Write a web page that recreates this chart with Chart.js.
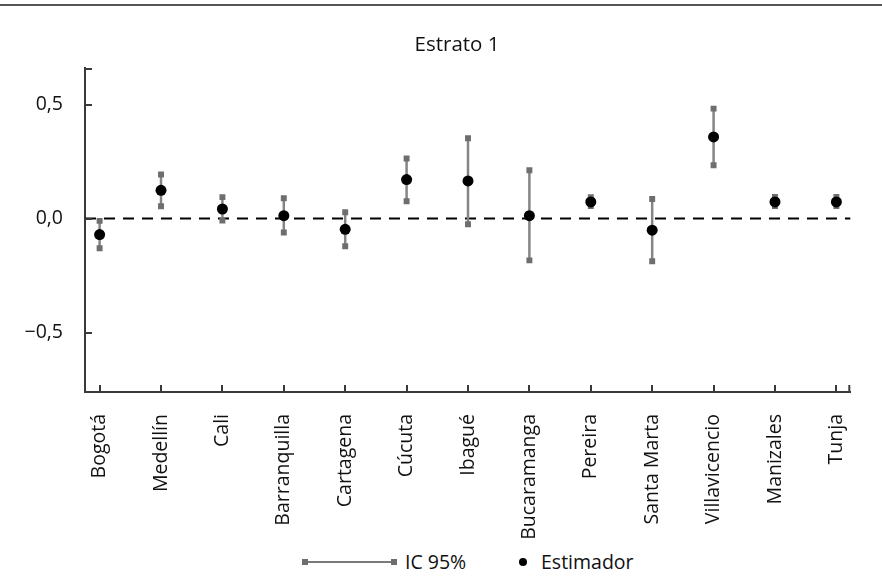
<!DOCTYPE html>
<html lang="es">
<head>
<meta charset="utf-8">
<title>Estrato 1</title>
<script src="https://cdn.jsdelivr.net/npm/chart.js@4.4.1/dist/chart.umd.min.js"></script>
<style>
  body { margin: 0; background: #fff; font-family: 'Open Sans', sans-serif; color: #111; }
  #wrap { position: relative; width: 882px; height: 588px; overflow: hidden; }
  #rule { position: absolute; left: 0; top: 4px; width: 882px; height: 2px; background: #555; }
  #title { position: absolute; left: 357px; width: 200px; top: 29px; text-align: center; font-size: 20.5px; line-height: 28px; }
  #chart { position: absolute; left: 0; top: 0; }
  #legend { position: absolute; top: 549px; left: 0; width: 882px; height: 26px; font-size: 19.5px; }
  .leg-item { position: absolute; top: 0; height: 26px; line-height: 26px; white-space: nowrap; }
  .ci-line { position: absolute; left: 305px; top: 12px; width: 89px; height: 2px; background: #7a7a7a; }
  .ci-line::before, .ci-line::after { content: ''; position: absolute; top: -2px; width: 6px; height: 6px; background: #6e6e6e; }
  .ci-line::before { left: -3px; }
  .ci-line::after { right: -3px; }
  .dot { position: absolute; left: 519px; top: 9px; width: 8px; height: 8px; border-radius: 50%; background: #000; }
</style>
</head>
<body>
<div id="wrap">
  <div id="rule"></div>
  <canvas id="chart" width="882" height="545"></canvas>
  <div id="title">Estrato 1</div>
  <div id="legend">
    <div class="ci-line"></div>
    <span class="leg-item" style="left:405px">IC 95%</span>
    <div class="dot"></div>
    <span class="leg-item" style="left:541px">Estimador</span>
  </div>
</div>
<script>
// --- DATA ---
const cities = ['Bogotá', 'Medellín', 'Cali', 'Barranquilla', 'Cartagena', 'Cúcuta', 'Ibagué',
                'Bucaramanga', 'Pereira', 'Santa Marta', 'Villavicencio', 'Manizales', 'Tunja'];
const estimate = [-0.070, 0.124, 0.042, 0.013, -0.047, 0.171, 0.165, 0.013, 0.073, -0.051, 0.358, 0.073, 0.073];
const lower    = [-0.130, 0.054, -0.009, -0.061, -0.121, 0.076, -0.025, -0.183, 0.055, -0.187, 0.234, 0.055, 0.055];
const upper    = [-0.010, 0.193, 0.094, 0.089, 0.028, 0.263, 0.352, 0.212, 0.094, 0.086, 0.482, 0.095, 0.095];
const yTicks = [-0.5, 0, 0.5];

// --- CONFIG ---
const AXIS_COLOR = '#3a3a3a';
const BAR_COLOR = '#858585';
const CAP_COLOR = '#6e6e6e';

Chart.defaults.font.family = "'Open Sans', sans-serif";
Chart.defaults.font.size = 19.5;
Chart.defaults.color = '#111';

// error bars: lower -> upper, null breaks the line between cities
const ciData = [];
cities.forEach((c, i) => {
    ciData.push({ x: i, y: lower[i] });
    ciData.push({ x: i, y: upper[i] });
    ciData.push({ x: i, y: null });
});
const estData = estimate.map((v, i) => ({ x: i, y: v }));

const fmt = v => (v < 0 ? '\u2212' : '') + Math.abs(v).toFixed(1).replace('.', ',');

// zero reference line + inward tick marks
const axisExtras = {
    id: 'axisExtras',
    beforeDatasetsDraw(chart) {
        const { ctx, chartArea: a, scales: { y } } = chart;
        const y0 = y.getPixelForValue(0);
        ctx.save();
        ctx.strokeStyle = '#000';
        ctx.lineWidth = 2;
        ctx.setLineDash([11, 8]);
        ctx.beginPath();
        ctx.moveTo(a.left, y0);
        ctx.lineTo(a.right, y0);
        ctx.stroke();
        ctx.restore();
    },
    afterDraw(chart) {
        const { ctx, chartArea: a, scales: { x, y } } = chart;
        ctx.save();
        ctx.strokeStyle = AXIS_COLOR;
        ctx.lineWidth = 2;
        ctx.beginPath();
        yTicks.forEach(v => {
            const py = Math.round(y.getPixelForValue(v));
            ctx.moveTo(a.left, py);
            ctx.lineTo(a.left + 7, py);
        });
        ctx.moveTo(a.left, a.top + 1);
        ctx.lineTo(a.left + 7, a.top + 1);
        cities.forEach((c, i) => {
            const px = Math.round(x.getPixelForValue(i));
            ctx.moveTo(px, a.bottom);
            ctx.lineTo(px, a.bottom - 7);
        });
        ctx.moveTo(a.right - 1, a.bottom);
        ctx.lineTo(a.right - 1, a.bottom - 7);
        ctx.stroke();
        ctx.restore();
    }
};

new Chart(document.getElementById('chart'), {
    type: 'scatter',
    data: {
        datasets: [
            {
                label: 'Estimador',
                data: estData,
                order: 0,
                pointStyle: 'circle',
                pointRadius: 5.5,
                pointBackgroundColor: '#000',
                pointBorderWidth: 0
            },
            {
                label: 'IC 95%',
                data: ciData,
                order: 1,
                showLine: true,
                spanGaps: false,
                borderColor: BAR_COLOR,
                borderWidth: 2.5,
                pointStyle: 'rect',
                pointRadius: 4.2,
                pointBackgroundColor: CAP_COLOR,
                pointBorderWidth: 0
            }
        ]
    },
    options: {
        responsive: false,
        animation: false,
        layout: { padding: { left: 0, right: 12, top: 68, bottom: 0 } },
        plugins: {
            legend: { display: false },
            tooltip: { enabled: false }
        },
        scales: {
            x: {
                type: 'linear',
                min: -0.238,
                max: 12.227,
                afterBuildTicks: s => { s.ticks = cities.map((c, i) => ({ value: i })); },
                afterFit: s => { s.height = 545 - 392; },
                grid: { display: false, drawTicks: false },
                border: { display: true, color: AXIS_COLOR, width: 2 },
                ticks: {
                    autoSkip: false,
                    minRotation: 90,
                    maxRotation: 90,
                    padding: 22,
                    callback: v => cities[v]
                }
            },
            y: {
                min: -0.76,
                max: 0.66,
                afterBuildTicks: s => { s.ticks = yTicks.map(v => ({ value: v })); },
                afterFit: s => { s.width = 85; },
                grid: { display: false, drawTicks: false },
                border: { display: true, color: AXIS_COLOR, width: 2 },
                ticks: { padding: 22, callback: v => fmt(v) }
            }
        }
    },
    plugins: [axisExtras]
});
</script>
</body>
</html>
